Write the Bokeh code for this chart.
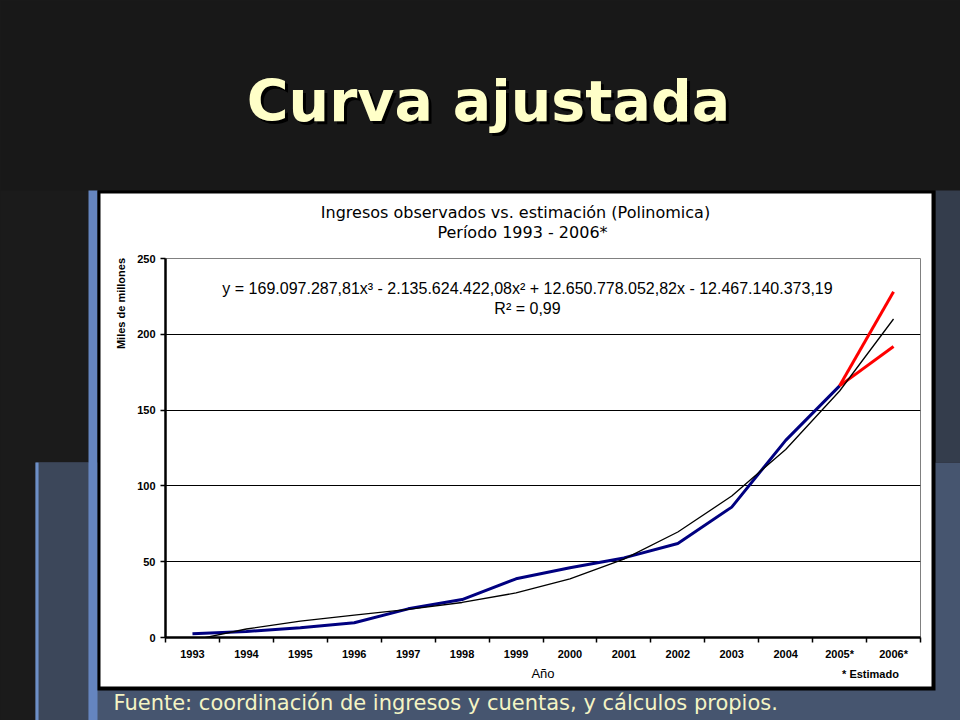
from math import pi
from bokeh.plotting import figure
from bokeh.layouts import column
from bokeh.models import Range1d, FixedTicker, Label, GlobalInlineStyleSheet
from bokeh.embed import file_html
from bokeh.resources import INLINE

# ---------------- data ----------------
years = ["1993", "1994", "1995", "1996", "1997", "1998", "1999",
         "2000", "2001", "2002", "2003", "2004", "2005*", "2006*"]
observed_years = years[:13]
observed = [2.5, 4.0, 6.4, 9.7, 18.9, 25.0, 38.7, 46.0, 52.5, 62.0, 86.0, 130.0, 166.0]
fit_values = [-1.8, 5.6, 10.8, 14.8, 18.5, 23.1, 29.4, 38.6, 51.7, 69.6, 93.3, 124.0, 162.6, 210.1]
proj_years = ["2005*", "2006*"]
proj_high = [166.0, 228.0]
proj_low = [166.0, 192.0]
y_ticks = [0, 50, 100, 150, 200, 250]
grid_ticks = [50, 100, 150, 200]

pos = {lab: i + 1 for i, lab in enumerate(years)}
x_obs = [pos[y] for y in observed_years]
x_fit = [pos[y] for y in years]
x_proj = [pos[y] for y in proj_years]

W, H = 960, 720
DARK = "#1b1b1b"

# ---------------- background slide (pixel coordinates) ----------------
bg = figure(width=W, height=H, output_backend="svg", toolbar_location=None,
            x_range=Range1d(0, W), y_range=Range1d(H, 0),
            x_axis_type=None, y_axis_type=None, min_border=0)
bg.frame_align = False
bg.grid.visible = False
bg.outline_line_color = None
bg.border_fill_color = DARK
bg.background_fill_color = DARK
bg.stylesheets = [GlobalInlineStyleSheet(
    css="html, body { margin: 0 !important; padding: 0 !important; background: #1b1b1b; overflow: hidden; }")]


def rect(l, t, r, b, color):
    bg.quad(left=l, right=r, top=t, bottom=b, fill_color=color, line_color=None)


rect(0, 0, 960, 190, "#181818")
rect(35, 462, 960, 720, "#46556f")
rect(38, 462, 88, 720, "#3c475a")
rect(935, 190, 960, 462, "#343d4c")
rect(88, 190, 97, 720, "#6585bf")
rect(35, 462, 38, 720, "#6d8fc7")
rect(97, 190, 935, 690, "#000000")
rect(100, 193, 931, 686, "#ffffff")


def label(fig, x, y, text, size, color="black", font="Liberation Sans", style="normal",
          align="center", angle=0.0, units="data"):
    fig.add_layout(Label(x=x, y=y, x_units=units, y_units=units, text=text,
                         text_font=font, text_font_size=size, text_font_style=style,
                         text_color=color, text_align=align, text_baseline="middle",
                         angle=angle))


label(bg, 491, 103, "Curva ajustada", "57px", color="#000000", font="DejaVu Sans", style="bold")
label(bg, 488, 100, "Curva ajustada", "57px", color="#ffffc8", font="DejaVu Sans", style="bold")
label(bg, 515, 212, "Ingresos observados vs. estimación (Polinomica)", "16px", font="DejaVu Sans")
label(bg, 522, 232, "Período 1993 - 2006*", "16px", font="DejaVu Sans")
label(bg, 120, 303, "Miles de millones", "11px", style="bold", angle=pi / 2)
label(bg, 870, 673, "* Estimado", "11px", style="bold")
label(bg, 113, 702, "Fuente: coordinación de ingresos y cuentas, y cálculos propios.", "21px",
      color="#f4f4c4", font="DejaVu Sans", align="left")

# ---------------- chart (overlaid, transparent borders) ----------------
p = figure(width=W, height=H, output_backend="svg", toolbar_location=None,
           x_range=Range1d(0.5, len(years) + 0.5), y_range=Range1d(0, 250),
           min_border_left=165, min_border_right=40, min_border_top=258,
           min_border_bottom=83)
p.frame_align = False
p.styles = {"position": "absolute", "left": "0px", "top": "0px"}
p.border_fill_alpha = 0.0
p.background_fill_color = "white"
p.outline_line_color = "#808080"
p.outline_line_width = 1

xa = p.xaxis[0]
xa.ticker = FixedTicker(ticks=x_fit, minor_ticks=[i + 0.5 for i in range(len(years) + 1)])
xa.major_label_overrides = {pos[y]: y for y in years}
xa.major_tick_line_color = None
xa.major_tick_out = 0
xa.major_tick_in = 0
xa.minor_tick_line_color = "black"
xa.minor_tick_line_width = 1.5
xa.minor_tick_out = 5
xa.minor_tick_in = 0
xa.axis_line_color = "black"
xa.axis_line_width = 2.5
xa.major_label_text_font = "Liberation Sans"
xa.major_label_text_font_style = "bold"
xa.major_label_text_font_size = "11px"
xa.major_label_text_color = "black"
xa.major_label_standoff = 5
xa.axis_label = "Año"
xa.axis_label_text_font = "Liberation Sans"
xa.axis_label_text_font_style = "normal"
xa.axis_label_text_font_size = "13px"
xa.axis_label_text_color = "black"
xa.axis_label_standoff = 3

ya = p.yaxis[0]
ya.ticker = FixedTicker(ticks=y_ticks)
ya.major_tick_out = 5
ya.major_tick_in = 0
ya.major_tick_line_width = 1.5
ya.major_tick_line_color = "black"
ya.minor_tick_line_color = None
ya.axis_line_color = "black"
ya.axis_line_width = 2.5
ya.major_label_text_font = "Liberation Sans"
ya.major_label_text_font_style = "bold"
ya.major_label_text_font_size = "11px"
ya.major_label_text_color = "black"
ya.major_label_standoff = 5

p.xgrid.visible = False
p.ygrid.ticker = FixedTicker(ticks=grid_ticks)
p.ygrid.grid_line_color = "black"
p.ygrid.grid_line_width = 1

p.line(x_obs, observed, line_color="#000080", line_width=3)
p.line(x_proj, proj_high, line_color="#ff0000", line_width=3)
p.line(x_proj, proj_low, line_color="#ff0000", line_width=3)
p.line(x_fit, fit_values, line_color="black", line_width=1.3)

label(p, 527, 288, "y = 169.097.287,81x³ - 2.135.624.422,08x² + 12.650.778.052,82x - 12.467.140.373,19",
      "16px", units="canvas")
label(p, 527, 308, "R² = 0,99", "16px", units="canvas")

layout = column(bg, p, styles={"position": "relative"})

open("out.html", "w").write(file_html(layout, INLINE))
